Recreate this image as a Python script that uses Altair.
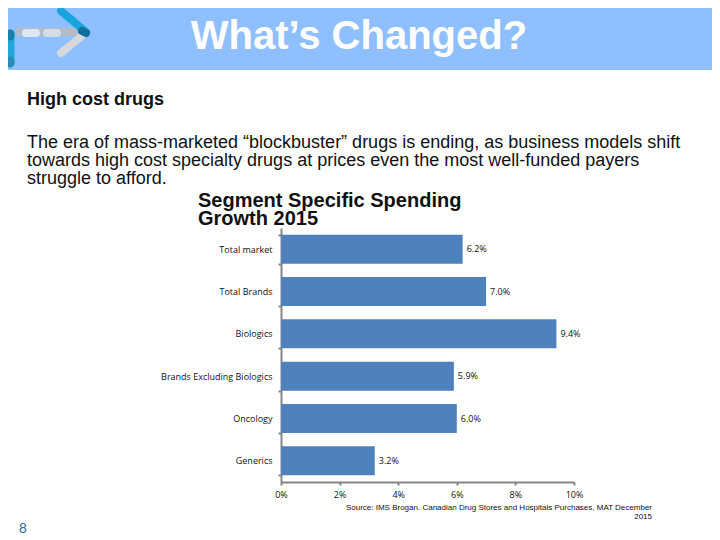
import altair as alt
import pandas as pd

categories = ["Total market", "Total Brands", "Biologics", "Brands Excluding Biologics", "Oncology", "Generics"]
growth = [0.062, 0.070, 0.094, 0.059, 0.060, 0.032]
x_ticks = [0, 0.02, 0.04, 0.06, 0.08, 0.10]

title_text = "What’s Changed?"
subhead = "High cost drugs"
body_lines = [
    "The era of mass-marketed “blockbuster” drugs is ending, as business models shift",
    "towards high cost specialty drugs at prices even the most well-funded payers",
    "struggle to afford.",
]
chart_title_lines = ["Segment Specific Spending", "Growth 2015"]
source_lines = ["Source: IMS Brogan. Canadian Drug Stores and Hospitals Purchases, MAT December", "2015"]
page_number = "8"

PW, PH = 293, 254
OX, OY = 273, 220   # plot origin inside the chart
TW, TH = 704, 528


def px(x):
    return x - 8 - OX


def py(y):
    return y - 8 - OY


def text(s, x, y, align="left", **kw):
    return alt.Chart(pd.DataFrame({"t": [s]})).mark_text(baseline="alphabetic", align=align, **kw).encode(
        x=alt.value(px(x)), y=alt.value(py(y)), text="t:N"
    )


def stroke(x1, y1, x2, y2, color, w, op=1.0):
    return alt.Chart(pd.DataFrame({"a": [0]})).mark_rule(
        color=color, strokeWidth=w, strokeCap="round", opacity=op
    ).encode(x=alt.value(px(x1)), x2=alt.value(px(x2)), y=alt.value(py(y1)), y2=alt.value(py(y2)))


band = alt.Chart(pd.DataFrame({"a": [0]})).mark_rect(color="#8FBFFF").encode(
    x=alt.value(px(8)), x2=alt.value(px(712)), y=alt.value(py(8)), y2=alt.value(py(70))
)

logo = [
    stroke(20, 32, 80, 32, "#B5BBC4", 8),
    stroke(26, 33, 36, 33, "#DDE6F2", 8),
    stroke(47, 33, 57, 33, "#D3DDEA", 8),
    stroke(61, 53, 83, 35, "#D6D8DC", 8),
    stroke(61, 11, 86, 32, "#18A5DF", 8),
    stroke(82, 31, 86, 33, "#0F6E9B", 8),
    stroke(10, 34, 10, 63, "#24A6DC", 9),
    stroke(10, 34, 10, 36, "#1C7FA8", 9),
    stroke(10, 61, 10, 63, "#2A8DB5", 9),
]

df = pd.DataFrame({"cat": categories, "v": growth})
y_enc = alt.Y(
    "cat:N",
    sort=categories,
    title=None,
    scale=alt.Scale(paddingInner=0.31, paddingOuter=0.155),
    axis=alt.Axis(
        domainColor="#868686", domainWidth=2, tickColor="#868686", tickWidth=2, tickSize=3,
        tickBand="extent", labelPadding=6, labelFont="Open Sans", labelFontSize=9,
        labelColor="#111111", grid=False, labelLimit=200,
    ),
)
x_enc = alt.X(
    "v:Q",
    title=None,
    scale=alt.Scale(domain=[0, 0.1], nice=False),
    axis=alt.Axis(
        values=x_ticks, format=".0%", domainColor="#868686", domainWidth=2, tickColor="#868686",
        tickWidth=2, tickSize=3, labelPadding=5, labelFont="Open Sans", labelFontSize=9,
        labelColor="#111111", grid=False, labelFlush=False, labelOverlap=False,
    ),
)
bars = alt.Chart(df).mark_bar(color="#4F81BD", size=29).encode(x=x_enc, y=y_enc)
labels = alt.Chart(df).mark_text(
    align="left", dx=4, font="Open Sans", fontSize=9, color="#111111"
).encode(x=x_enc, y=y_enc, text=alt.Text("v:Q", format=".1%"))

SANS = "Liberation Sans"
texts = [
    text(title_text, 359, 49, align="center", font=SANS, fontSize=40, fontWeight="bold", color="white"),
    text(subhead, 27, 105, font=SANS, fontSize=18, fontWeight="bold", color="#111111"),
]
for s, yy in zip(body_lines, [148, 166, 184]):
    texts.append(text(s, 27, yy, font=SANS, fontSize=18, color="#111111"))
for s, yy in zip(chart_title_lines, [207, 225]):
    texts.append(text(s, 198, yy, font=SANS, fontSize=20, fontWeight="bold", color="#111111"))
for s, yy in zip(source_lines, [510, 519]):
    texts.append(text(s, 652, yy, align="right", font=SANS, fontSize=8, color="#111111"))
texts.append(text(page_number, 23, 533, align="center", font=SANS, fontSize=14, color="#2F6F8F"))

chart = alt.layer(band, *logo, bars, labels, *texts).properties(
    width=PW,
    height=PH,
    autosize=alt.AutoSizeParams(type="none"),
    padding={"left": OX, "top": OY, "right": TW - OX - PW, "bottom": TH - OY - PH},
    background="white",
).configure_view(stroke=None)

chart.save("out.html", embed_options={"renderer": "svg", "actions": False})
